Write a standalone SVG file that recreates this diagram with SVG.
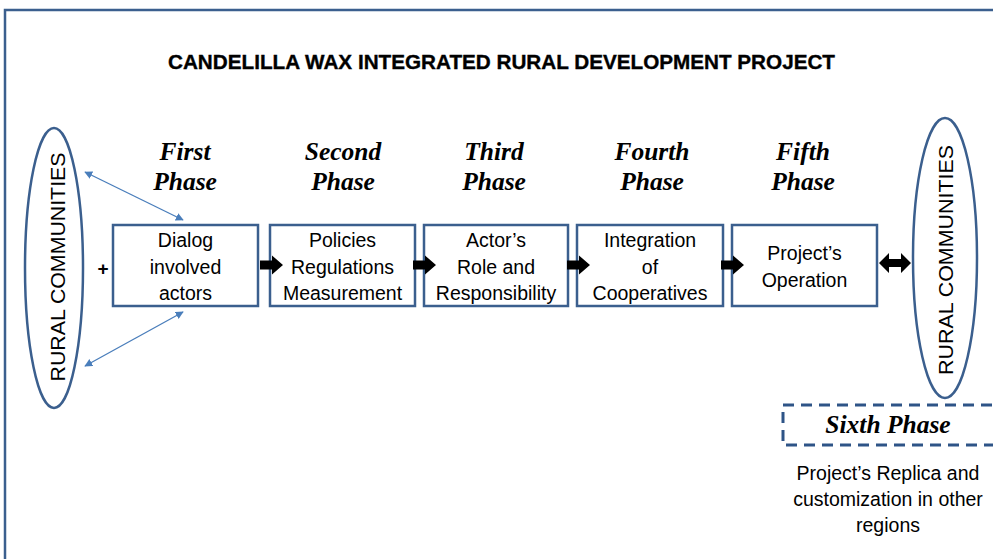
<svg xmlns="http://www.w3.org/2000/svg" width="993" height="559" viewBox="0 0 993 559">
  <defs>
    <style>
      .frame { fill: none; stroke: #3b5f8e; stroke-width: 2.5; }
      .phase-box { fill: #ffffff; stroke: #3b5f8e; stroke-width: 2.5; }
      .comm { fill: #ffffff; stroke: #3b5f8e; stroke-width: 2.5; }
      .title { font-family: "Liberation Sans", Arial, sans-serif; font-weight: bold; font-size: 20px; fill: #000; stroke: #000; stroke-width: 0.35; }
      .phase { font-family: "Liberation Serif", "Times New Roman", serif; font-weight: bold; font-style: italic; font-size: 25.5px; fill: #000; text-anchor: middle; }
      .label { font-family: "Liberation Sans", Arial, sans-serif; font-size: 19.5px; fill: #000; text-anchor: middle; }
      .vert { font-family: "Liberation Sans", Arial, sans-serif; font-size: 21px; fill: #000; text-anchor: middle; }
      .thin { fill: none; stroke: #4a7ebb; stroke-width: 1.3; marker-start: url(#tipS); marker-end: url(#tipE); }
      .block { fill: #000; }
    </style>
    <marker id="tipE" viewBox="0 0 10 10" refX="9" refY="5" markerWidth="8" markerHeight="8" markerUnits="userSpaceOnUse" orient="auto">
      <path d="M0,0 L10,5 L0,10 z" fill="#4a7ebb"/>
    </marker>
    <marker id="tipS" viewBox="0 0 10 10" refX="1" refY="5" markerWidth="8" markerHeight="8" markerUnits="userSpaceOnUse" orient="auto">
      <path d="M10,0 L0,5 L10,10 z" fill="#4a7ebb"/>
    </marker>
    <path id="blockArrow" d="M0,-4.5 L12,-4.5 L12,-9.5 L23,0 L12,9.5 L12,4.5 L0,4.5 z"/>
  </defs>

  <rect width="993" height="559" fill="#ffffff"/>

  <!-- outer frame -->
  <path class="frame" d="M5,559 L5,10 L993,10"/>

  <text class="title" x="168" y="69" textLength="667" lengthAdjust="spacingAndGlyphs">CANDELILLA WAX INTEGRATED RURAL DEVELOPMENT PROJECT</text>

  <!-- communities -->
  <g id="communities-left">
    <ellipse class="comm" cx="54" cy="268" rx="29" ry="140"/>
    <text class="vert" transform="translate(65,267) rotate(-90)" textLength="229" lengthAdjust="spacingAndGlyphs">RURAL COMMUNITIES</text>
  </g>
  <g id="communities-right">
    <ellipse class="comm" cx="945" cy="258" rx="32" ry="140"/>
    <text class="vert" transform="translate(953,260) rotate(-90)" textLength="230" lengthAdjust="spacingAndGlyphs">RURAL COMMUNITIES</text>
  </g>

  <text x="103" y="275" font-family="Liberation Sans, Arial, sans-serif" font-weight="bold" font-size="19" text-anchor="middle">+</text>

  <!-- phases -->
  <g id="phase1">
    <text class="phase" x="185" y="160">First</text>
    <text class="phase" x="185" y="190">Phase</text>
    <rect class="phase-box" x="113" y="225" width="145" height="81"/>
    <text class="label" x="185.5" y="247">Dialog</text>
    <text class="label" x="185.5" y="274">involved</text>
    <text class="label" x="185.5" y="300">actors</text>
  </g>
  <g id="phase2">
    <text class="phase" x="343" y="160">Second</text>
    <text class="phase" x="343" y="190">Phase</text>
    <rect class="phase-box" x="270" y="225" width="145" height="81"/>
    <text class="label" x="342.5" y="247">Policies</text>
    <text class="label" x="342.5" y="274">Regulations</text>
    <text class="label" x="342.5" y="300">Measurement</text>
  </g>
  <g id="phase3">
    <text class="phase" x="494" y="160">Third</text>
    <text class="phase" x="494" y="190">Phase</text>
    <rect class="phase-box" x="424" y="225" width="144" height="81"/>
    <text class="label" x="496" y="247">Actor’s</text>
    <text class="label" x="496" y="274">Role and</text>
    <text class="label" x="496" y="300">Responsibility</text>
  </g>
  <g id="phase4">
    <text class="phase" x="652" y="160">Fourth</text>
    <text class="phase" x="652" y="190">Phase</text>
    <rect class="phase-box" x="577" y="225" width="146" height="81"/>
    <text class="label" x="650" y="247">Integration</text>
    <text class="label" x="650" y="274">of</text>
    <text class="label" x="650" y="300">Cooperatives</text>
  </g>
  <g id="phase5">
    <text class="phase" x="803" y="160">Fifth</text>
    <text class="phase" x="803" y="190">Phase</text>
    <rect class="phase-box" x="732" y="225" width="145" height="81"/>
    <text class="label" x="804.5" y="260">Project’s</text>
    <text class="label" x="804.5" y="287">Operation</text>
  </g>
  <g id="phase6">
    <rect x="783" y="405" width="230" height="40" fill="none" stroke="#2e5487" stroke-width="3" stroke-dasharray="11,7"/>
    <text class="phase" x="888" y="433" font-size="25">Sixth Phase</text>
    <text class="label" x="888" y="480">Project’s Replica and</text>
    <text class="label" x="888" y="506">customization in other</text>
    <text class="label" x="888" y="532">regions</text>
  </g>

  <!-- connectors -->
  <g id="connectors">
    <path class="thin" d="M85,172 L183,220"/>
    <path class="thin" d="M85,366 L183,312"/>
    <use href="#blockArrow" class="block" x="260" y="265"/>
    <use href="#blockArrow" class="block" x="413" y="265"/>
    <use href="#blockArrow" class="block" x="567" y="265"/>
    <use href="#blockArrow" class="block" x="721" y="265"/>
    <path class="block" d="M879,263 L889,253 L889,259 L901,259 L901,253 L911,263 L901,273 L901,267 L889,267 L889,273 z"/>
  </g>
</svg>
